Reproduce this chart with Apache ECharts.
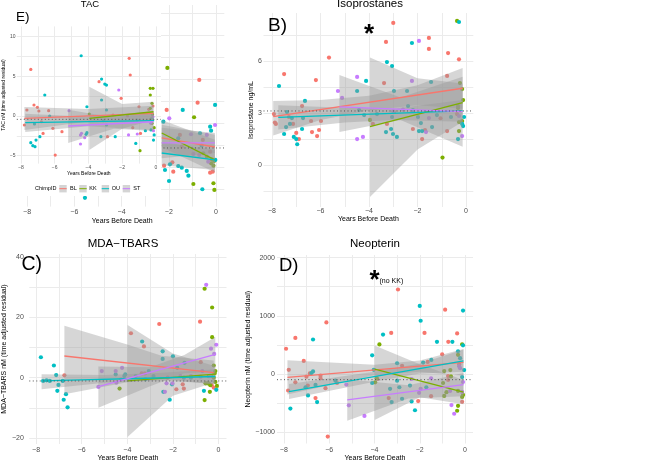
<!DOCTYPE html>
<html><head><meta charset="utf-8">
<script src="https://cdn.jsdelivr.net/npm/echarts@6/dist/echarts.min.js"></script>
<style>html,body{margin:0;padding:0;background:#fff}#c{width:670px;height:463px}</style>
</head><body><div id="c"></div>
<script>
// ---------------- DATA ----------------
const GROUPS = ['BL', 'KK', 'OU', 'ST'];
const COLORS = { BL: '#F8766D', KK: '#7CAE00', OU: '#00BFC4', ST: '#C77CFF' };
const xTickStep = 2;

// E (underlying, partly hidden) TAC
const tacU_BL = [[-2.09,3.98],[-0.71,7.39],[-0.78,4.81],[-2.2,-2.35],[-1.85,-1.97],[-1.81,-3.03],[-0.25,-3.15],[-0.14,-3.03],[-1.53,1.14],[-0.56,0.57],[-1.45,-0.19],[-0.25,-0.76]];
const tacU_KK = [[-2.06,8.75],[-0.93,3.15],[-0.96,-4.43],[-0.11,-4.35],[-0.07,-5.11],[-0.21,-2.08],[-0.11,-2.35],[-0.54,-0.94],[-0.39,-1.33],[-0.18,-1.63],[-0.08,-1.82]];
const tacU_OU = [[-0.04,4.55],[-1.41,3.98],[-0.25,2.08],[-2.16,-2.84],[-1.95,-2.2],[-1.99,-4.09],[-1.6,-2.39],[-1.45,-2.58],[-1.24,-2.95],[-1.17,-3.49],[-0.58,-5.03],[-0.03,-1.7],[-2.23,2.65],[-0.21,1.63],[-1.6,0.76],[-0.68,1.33],[-0.61,-0.08],[-5.55,-6.0]];
const tacU_ST = [[-1.98,3.03],[-0.04,2.27],[-1.06,1.22],[-0.39,1.14],[-0.96,-1.02],[-0.71,-1.14],[-0.33,-1.9]];
const tacUFit_BL = [[-2.3,0.8],[-0.05,-0.23]];
const tacUFit_KK = [[-2.3,1.36],[-0.05,-1.7]];
const tacUFit_OU = [[-2.3,-0.91],[-0.05,-1.7]];
const tacUFit_ST = [[-2.3,0.23],[-0.05,0.23]];
const tacUBand_BL = [[-2.3,-0.8,2.3],[-0.05,-1.7,1.15]];
const tacUBand_KK = [[-2.3,-0.25,2.85],[-0.05,-3.1,0.6]];
const tacUBand_OU = [[-2.3,-2.3,0.35],[-0.05,-2.85,-0.55]];
const tacUBand_ST = [[-2.3,-1.5,1.95],[-0.05,-0.9,1.35]];
const tacURef = -0.34;

// E (small inset) TAC
const tacS_BL = [[-7.42,5.88],[-7.8,-1.13],[-7.65,0.76],[-7.23,1.39],[-7.03,1.1],[-6.94,0.63],[-6.79,-0.72],[-6.69,-2.19],[-6.36,0.67],[-6.11,-1.55],[-5.57,-1.98],[-5.97,-4.92],[-3.37,4.33],[-2.87,-2.6],[-2.54,0.13],[-2.06,2.23],[-1.68,0],[-1.58,7.27],[-1.52,5.17],[-1.37,-1.47],[-1.0,1.17],[-0.91,-2.19],[-0.42,0.84],[-0.17,1.26]];
const tacS_KK = [[-0.94,-4.37],[-0.33,3.49],[-0.17,3.49],[-0.33,2.65],[-0.23,1.6],[-0.33,0.97],[-0.23,-0.92],[-0.1,-1.47],[-3.95,0.25],[-0.2,0.2],[-0.3,-0.4]];
const tacS_OU = [[-4.43,7.6],[-6.59,2.65],[-7.42,-3.36],[-7.11,-3.03],[-6.88,-2.61],[-7.17,-3.87],[-7.3,-3.74],[-6.3,0],[-7.2,-1.0],[-4.09,1.17],[-4.14,-2.31],[-4.09,-2.1],[-3.22,4.66],[-3.03,4.03],[-2.93,3.9],[-3.22,2.02],[-2.93,0.76],[-3.12,-0.59],[-2.93,-1.13],[-3.26,-2.6],[-2.41,-2.6],[-1.19,-3.45],[-1.1,-0.5],[-0.62,-1.85],[-0.29,-1.76],[-0.23,-0.29],[-0.14,-3.03],[-0.1,-2.39]];
const tacS_ST = [[-5.15,0.67],[-4.47,-2.4],[-4.41,-2.18],[-4.22,-2.73],[-4.47,-3.53],[-2.2,3.28],[-1.62,-2.39],[-1.1,-2.27],[-0.14,-1.85],[-0.17,-0.09],[-0.3,-0.9]];
const tacSFit_BL = [[-7.8,-0.3],[-0.14,0.34]];
const tacSFit_KK = [[-3.95,-0.29],[-0.14,0.54]];
const tacSFit_OU = [[-7.75,-0.84],[-0.1,-0.59]];
const tacSFit_ST = [[-5.2,-1.26],[-0.14,-0.72]];
const tacSBand_BL = [[-7.8,-1.75,1.15],[-4,-0.7,0.9],[-0.14,-0.6,1.3]];
const tacSBand_KK = [[-3.95,-4.3,3.7],[-2,-1.6,1.5],[-0.14,-0.5,1.8]];
const tacSBand_OU = [[-7.75,-2.0,0.3],[-4,-1.3,-0.1],[-0.14,-1.8,0.6]];
const tacSBand_ST = [[-5.2,-3.4,0.8],[-2.5,-1.6,-0.2],[-0.14,-1.9,0.5]];
const tacSRef = -0.42;

// B) Isoprostanes
const iso_BL = [[-7.92,2.94],[-7.84,2.37],[-7.88,2.45],[-7.5,5.25],[-7.3,2.77],[-7.13,2.37],[-6.76,3.4],[-7.0,1.85],[-6.89,1.5],[-6.39,2.54],[-6.35,1.9],[-6.19,4.9],[-6.14,1.67],[-6.06,2.02],[-5.98,2.54],[-5.65,6.2],[-3.84,2.37],[-3.38,4.73],[-3.3,7.1],[-3.26,2.37],[-3.0,8.2],[-2.97,3.06],[-2.19,2.08],[-1.69,2.02],[-1.81,1.5],[-1.53,7.33],[-1.53,6.7],[-1.05,2.7],[-0.74,6.46],[-0.78,5.14],[-0.78,1.96],[-0.29,6.1],[-0.37,2.94]];
const iso_KK = [[-3.96,2.6],[-0.97,0.43],[-0.37,8.31],[-0.25,4.73],[-0.16,4.38],[-0.12,3.75],[-0.33,3.4],[-0.33,3.29],[-0.16,2.54],[-0.29,2.48],[-0.29,1.96]];
const iso_OU = [[-7.71,4.56],[-7.38,3.06],[-7.42,2.19],[-7.5,1.79],[-7.26,2.37],[-7.18,2.71],[-7.1,1.62],[-7.0,1.5],[-6.96,1.2],[-6.72,2.71],[-6.76,2.08],[-6.64,3.7],[-4.49,4.27],[-4.12,4.85],[-4.41,3.17],[-4.2,2.88],[-3.67,2.94],[-3.26,5.94],[-3.05,5.71],[-3.3,1.9],[-3.09,2.08],[-3.01,1.79],[-2.97,4.27],[-3.05,2.77],[-2.85,1.62],[-2.43,4.27],[-2.39,3.4],[-2.23,7.04],[-2.19,3.17],[-1.98,2.77],[-1.94,1.96],[-1.86,2.42],[-1.81,1.96],[-1.44,4.79],[-1.4,2.19],[-1.2,2.88],[-0.29,8.25],[-0.62,2.77],[-0.16,2.37],[-0.12,2.25],[-0.08,2.77],[-0.33,1.5]];
const iso_ST = [[-5.28,4.27],[-5.11,3.87],[-4.49,5.08],[-4.49,1.5],[-4.25,1.62],[-2.23,4.85],[-1.94,7.16],[-1.65,1.9],[-1.53,2.71],[-0.29,2.83],[-0.16,1.67],[-2.6,3.2],[-3.0,3.1]];
const isoFit_BL = [[-7.95,2.79],[-0.14,4.43]];
const isoFit_KK = [[-3.96,2.21],[-0.14,3.6]];
const isoFit_OU = [[-7.74,2.75],[-0.14,3.13]];
const isoFit_ST = [[-5.22,3.36],[-0.14,3.08]];
const isoBand_BL = [[-7.95,1.7,3.7],[-6,2.6,3.75],[-4,3.15,4.0],[-2,3.45,4.6],[-0.14,3.25,5.6]];
const isoBand_KK = [[-3.96,-1.85,6.2],[-2,0.9,5.0],[-0.14,2.5,4.7]];
const isoBand_OU = [[-7.74,2.05,3.45],[-5,2.45,3.3],[-3,2.6,3.25],[-0.14,2.5,3.75]];
const isoBand_ST = [[-5.22,1.9,5.2],[-2.7,2.6,3.9],[-0.14,1.05,5.1]];
const isoRef = 3.12;

// C) MDA-TBARS
const mda_BL = [[-6.76,0.77],[-3.84,14.75],[-3.37,1.42],[-3.27,10.38],[-3.23,1.42],[-2.6,17.81],[-2.23,0],[-1.57,-2.19],[-1.52,-3.6],[-1.85,-3.83],[-0.81,18.58],[-0.78,5.14],[-0.21,-3.28],[-0.3,-2.5]];
const mda_KK = [[-4.34,-3.6],[-0.61,29.5],[-0.61,-7.43],[-0.28,23.28],[-0.28,13.44],[-0.5,-1.86],[-0.38,-4.7],[-0.21,4.04],[-0.14,2.19],[-0.57,-1.86],[-0.43,-1.86],[-0.33,0.55],[-0.21,0],[-0.14,-1.42],[-0.07,-2.73],[-0.36,-2.51],[-0.17,1.42]];
const mda_OU = [[-7.79,6.78],[-7.22,4.04],[-7.12,0.87],[-7.07,-4.37],[-7.02,-2.4],[-7.4,-1.09],[-7.54,-0.87],[-7.69,-1.09],[-6.83,-1.09],[-6.79,-7.32],[-6.69,-5.46],[-6.62,-9.84],[-4.51,1.09],[-4.13,0.55],[-4.09,1.09],[-3.63,0.55],[-3.35,12.0],[-3.2,-0.55],[-3.06,2.19],[-2.85,0.55],[-2.45,8.74],[-2.45,6.23],[-2.42,-4.7],[-2.14,-7.32],[-2.04,-2.19],[-2.0,7.1],[-1.81,3.28],[-1.52,0],[-1.49,4.92],[-1.21,0],[-0.64,-4.37],[-0.43,0.55],[-0.1,-4.04]];
const mda_ST = [[-5.27,-3.06],[-5.12,2.19],[-4.51,2.19],[-4.48,-1.64],[-4.27,-0.55],[-4.23,3.28],[-2.35,-4.7],[-2.28,-1.86],[-2.02,-1.86],[-1.67,0.55],[-1.21,0.55],[-0.78,0.33],[-0.54,30.8],[-0.33,9.62],[-0.19,7.87],[-0.1,10.93],[-0.71,2.19],[-0.38,0.55]];
const mdaFit_BL = [[-6.76,7.2],[-0.21,1.7]];
const mdaFit_KK = [[-3.99,-1.05],[-0.14,1.15]];
const mdaFit_OU = [[-7.76,-1.05],[-0.14,0.4]];
const mdaFit_ST = [[-5.27,-3.0],[-0.14,7.74]];
const mdaBand_BL = [[-6.76,-5.5,17.2],[-4,-1.5,11.0],[-2.5,-0.3,7.3],[-0.21,-2.3,5.7]];
const mdaBand_KK = [[-3.99,-19.7,17.5],[-2,-6,8],[-0.14,-1.5,3.8]];
const mdaBand_OU = [[-7.76,-3.8,1.15],[-5,-1.7,0.9],[-2.5,-0.9,1.6],[-0.14,-2.0,2.8]];
const mdaBand_ST = [[-5.27,-10,3.7],[-3,-2.8,3.5],[-1.5,1.5,7.5],[-0.14,2.0,13.5]];
const mdaRef = -1.09;

// D) Neopterin
const neo_BL = [[-7.9,435],[-7.78,73],[-7.81,-282],[-7.49,621],[-7.49,-141],[-7.12,226],[-7.0,-45],[-6.94,-198],[-6.85,11],[-6.38,-28],[-6.38,-73],[-6.6,-412],[-6.16,-243],[-6.12,887],[-6.06,-1073],[-5.65,-153],[-3.87,-85],[-3.26,706],[-3.37,-412],[-2.96,1452],[-2.78,141],[-2.07,-463],[-1.79,706],[-1.65,209],[-1.5,-379],[-1.01,339],[-0.88,1105],[-0.74,554],[-0.75,-34],[-0.35,698],[-0.26,170],[-0.13,-477],[-0.75,-102]];
const neo_KK = [[-3.78,508],[-3.97,-141],[-3.9,-70],[-0.65,68],[-0.62,-40],[-0.82,-311],[-0.31,-545],[-0.35,-630],[-0.31,330],[-0.92,51],[-0.97,-153],[-0.92,-375],[-0.31,-290],[-0.09,-358],[-0.13,-392],[-0.13,511]];
const neo_OU = [[-7.71,-593],[-7.04,-226],[-6.93,-367],[-6.78,17],[-6.71,45],[-6.71,593],[-6.6,-186],[-6.53,-480],[-5.72,-113],[-4.1,322],[-4.1,-153],[-4.03,73],[-3.62,678],[-3.31,-254],[-3.24,-480],[-3.0,186],[-3.0,-113],[-2.9,-226],[-2.78,-424],[-2.43,-198],[-2.36,-469],[-2.21,-621],[-2.0,1169],[-1.96,915],[-1.85,198],[-1.71,-226],[-1.49,243],[-1.24,554],[-0.56,554],[-0.09,1090],[-0.09,494],[-0.31,392],[-0.22,273],[-0.04,68],[-0.13,-51]];
const neo_ST = [[-5.24,-181],[-5.13,-537],[-4.44,-718],[-2.36,-85],[-2.03,-322],[-1.96,-254],[-1.5,-73],[-0.6,-533],[-0.26,136],[-0.09,-136],[-0.66,-290],[-0.48,-681],[-0.13,-307],[-0.22,100]];
const neoFit_BL = [[-7.84,-57],[-0.07,199]];
const neoFit_KK = [[-3.99,85],[-0.07,-312]];
const neoFit_OU = [[-7.77,-301],[-0.07,227]];
const neoFit_ST = [[-5.2,-443],[-0.07,-182]];
const neoBand_BL = [[-7.84,-350,238],[-4,-20,160],[-2,40,235],[-0.07,-30,430]];
const neoBand_KK = [[-3.99,-790,490],[-2,-400,170],[-0.07,-520,-100]];
const neoBand_OU = [[-7.77,-430,-170],[-4,-130,40],[-2,10,180],[-0.07,40,420]];
const neoBand_ST = [[-5.2,-800,-90],[-2.5,-420,-190],[-0.07,-380,20]];
const neoRef = -96;

// ---------------- LAYOUT ----------------
const FONT = 'Liberation Sans, Arial, sans-serif';
const panels = [
  { name: 'tacU', grid: { left: 20, top: 5, width: 204.3, height: 201.6 }, xr: [-8.3, 0.35], yr: [-7, 15.9], yStep: 2.5, yLab: 5,
    fs: 7, xMargin: 2, yMargin: 2, xGap: 11, yGap: 10, yShow: false, yName: '', z: 0,
    pts: { BL: tacU_BL, KK: tacU_KK, OU: tacU_OU, ST: tacU_ST }, fits: { BL: tacUFit_BL, KK: tacUFit_KK, OU: tacUFit_OU, ST: tacUFit_ST },
    bands: { BL: tacUBand_BL, KK: tacUBand_KK, OU: tacUBand_OU, ST: tacUBand_ST }, ref: tacURef },
  { name: 'tacS', grid: { left: 13, top: 26.4, width: 147.9, height: 137.2 }, xr: [-8.25, 0.3], yr: [-6, 11.3], yStep: 2.5, yLab: 5,
    fs: 5, xMargin: 2, yMargin: 1.2, xGap: 6.5, yGap: 7.5, yShow: true, yName: 'TAC nM (time adjusted residual)', z: 11, sym: 3.2,
    pts: { BL: tacS_BL, KK: tacS_KK, OU: tacS_OU, ST: tacS_ST }, fits: { BL: tacSFit_BL, KK: tacSFit_KK, OU: tacSFit_OU, ST: tacSFit_ST },
    bands: { BL: tacSBand_BL, KK: tacSBand_KK, OU: tacSBand_OU, ST: tacSBand_ST }, ref: tacSRef },
  { name: 'iso', grid: { left: 263.5, top: 13, width: 209.8, height: 194 }, xr: [-8.35, 0.3], yr: [-2.42, 8.77], yStep: 1.5, yLab: 3,
    fs: 7, xMargin: 1, yMargin: 1.5, xGap: 8.5, yGap: 7, yShow: true, yName: 'Isoprostane ng/mL', z: 0,
    pts: { BL: iso_BL, KK: iso_KK, OU: iso_OU, ST: iso_ST }, fits: { BL: isoFit_BL, KK: isoFit_KK, OU: isoFit_OU, ST: isoFit_ST },
    bands: { BL: isoBand_BL, KK: isoBand_KK, OU: isoBand_OU, ST: isoBand_ST }, ref: isoRef },
  { name: 'mda', grid: { left: 24, top: 254.1, width: 202.5, height: 191.2 }, xr: [-8.3, 0.35], yr: [-22, 41], yStep: 10, yLab: 20,
    fs: 7, xMargin: 3, yMargin: 5.5, xGap: 11, yGap: 16.5, yShow: true, yName: 'MDA\u2212TBARS nM (time adjusted residual)', z: 0,
    pts: { BL: mda_BL, KK: mda_KK, OU: mda_OU, ST: mda_ST }, fits: { BL: mdaFit_BL, KK: mdaFit_KK, OU: mdaFit_OU, ST: mdaFit_ST },
    bands: { BL: mdaBand_BL, KK: mdaBand_KK, OU: mdaBand_OU, ST: mdaBand_ST }, ref: mdaRef },
  { name: 'neo', grid: { left: 277, top: 255, width: 196, height: 190 }, xr: [-8.3, 0.35], yr: [-1192, 2044], yStep: 500, yLab: 1000,
    fs: 7, xMargin: 3.5, yMargin: 2, xGap: 11.5, yGap: 21.5, yShow: true, yName: 'Neopterin nM (time adjusted residual)', z: 0,
    pts: { BL: neo_BL, KK: neo_KK, OU: neo_OU, ST: neo_ST }, fits: { BL: neoFit_BL, KK: neoFit_KK, OU: neoFit_OU, ST: neoFit_ST },
    bands: { BL: neoBand_BL, KK: neoBand_KK, OU: neoBand_OU, ST: neoBand_ST }, ref: neoRef }
];

function fmtEvery(step) {
  return function (v) {
    const r = v / step;
    if (Math.abs(r - Math.round(r)) > 1e-6) return '';
    const n = Math.round(v * 1000) / 1000;
    return n < 0 ? '\u2212' + Math.abs(n) : String(n);
  };
}

const grids = [], xAxes = [], yAxes = [], series = [];
panels.forEach((p, i) => {
  grids.push(Object.assign({ containLabel: false, show: false }, p.grid));
  const base = p.z;
  xAxes.push({
    type: 'value', gridIndex: i, min: p.xr[0], max: p.xr[1], minInterval: 1, maxInterval: 1, z: base,
    axisLine: { show: false }, axisTick: { show: false },
    axisLabel: { formatter: fmtEvery(xTickStep), fontSize: p.fs, color: '#4d4d4d', margin: p.xMargin, fontFamily: FONT },
    splitLine: { show: true, showMinLine: false, showMaxLine: false, lineStyle: { color: '#ebebeb', width: 1 } },
    name: 'Years Before Death', nameLocation: 'middle', nameGap: p.xGap,
    nameTextStyle: { fontSize: p.fs, color: '#000', fontFamily: FONT }
  });
  yAxes.push({
    type: 'value', gridIndex: i, min: p.yr[0], max: p.yr[1], minInterval: p.yStep, maxInterval: p.yStep, z: base,
    axisLine: { show: false }, axisTick: { show: false },
    axisLabel: { show: p.yShow, formatter: fmtEvery(p.yLab), fontSize: p.fs, color: '#4d4d4d', margin: p.yMargin, fontFamily: FONT },
    splitLine: { show: true, showMinLine: false, showMaxLine: false, lineStyle: { color: '#ebebeb', width: 1 } },
    name: p.yName, nameLocation: 'middle', nameGap: p.yGap,
    nameTextStyle: { fontSize: p.fs, color: '#000', fontFamily: FONT }
  });
  const zs = base === 0 ? 2 : base + 1;
  GROUPS.forEach(g => {
    series.push({
      type: 'scatter', xAxisIndex: i, yAxisIndex: i, data: p.pts[g], symbolSize: p.sym || 4.2, z: zs,
      itemStyle: { color: COLORS[g], opacity: 1 }, silent: true
    });
  });
  GROUPS.forEach(g => {
    const band = p.bands[g];
    series.push({
      type: 'custom', xAxisIndex: i, yAxisIndex: i, data: band, z: zs + 1, silent: true, clip: true,
      encode: { x: 0, y: [1, 2] },
      renderItem: function (params, api) {
        if (params.dataIndex !== 0) return null;
        const pts = [];
        band.forEach(r => pts.push(api.coord([r[0], r[2]])));
        band.slice().reverse().forEach(r => pts.push(api.coord([r[0], r[1]])));
        return { type: 'polygon', shape: { points: pts }, style: { fill: 'rgba(153,153,153,0.4)' } };
      }
    });
  });
  GROUPS.forEach(g => {
    series.push({
      type: 'line', xAxisIndex: i, yAxisIndex: i, data: p.fits[g], showSymbol: false, z: zs + 2, silent: true,
      lineStyle: { color: COLORS[g], width: 1.3 }
    });
  });
  series.push({
    type: 'line', xAxisIndex: i, yAxisIndex: i, data: [[p.xr[0], p.ref], [p.xr[1], p.ref]], showSymbol: false, z: zs + 3, silent: true,
    lineStyle: { color: '#555', width: 1, type: [1, 2.5] }
  });
});

function txt(text, x, y, size, opts) {
  opts = opts || {};
  return {
    type: 'text', x: x, y: y, z: 30, silent: true,
    style: {
      text: text, font: (opts.weight || 'normal') + ' ' + size + 'px ' + FONT, fill: opts.fill || '#000',
      align: opts.align || 'center', textAlign: opts.align || 'center',
      verticalAlign: 'middle', textVerticalAlign: 'middle'
    }
  };
}

const graphics = [
  // cover of the inset E) plot over the underlying one
  { type: 'rect', z: 10, silent: true, shape: { x: 0, y: 0, width: 161, height: 196 }, style: { fill: '#fff' } },
  txt('TAC', 90, 4, 9.5),
  txt('E)', 16, 17, 13.5, { align: 'left' }),
  txt('Isoprostanes', 370, 3.5, 11.5),
  txt('B)', 268, 26, 19, { align: 'left' }),
  txt('*', 369, 35, 26, { weight: 'bold' }),
  txt('MDA\u2212TBARS', 123, 244.3, 11.5),
  txt('C)', 21.5, 265, 19.5, { align: 'left' }),
  txt('Neopterin', 375, 244.3, 11.5),
  txt('D)', 279, 265.6, 18.5, { align: 'left' }),
  txt('*', 374.5, 281, 26, { weight: 'bold' }),
  txt('(no KK)', 379.5, 281.5, 7, { align: 'left' }),
  txt('ChimpID', 35, 188.7, 5.5, { align: 'left' })
];
const keyX = [59.3, 79.3, 101.7, 122.7];
const labX = [70, 89.3, 111.7, 133.3];
GROUPS.forEach((g, k) => {
  graphics.push({ type: 'rect', z: 30, silent: true, shape: { x: keyX[k], y: 185, width: 7.4, height: 7.4 }, style: { fill: '#d4d4d4' } });
  graphics.push({ type: 'line', z: 31, silent: true, shape: { x1: keyX[k], y1: 188.7, x2: keyX[k] + 7.4, y2: 188.7 }, style: { stroke: COLORS[g], lineWidth: 1 } });
  graphics.push(txt(g, labX[k], 188.7, 5.5, { align: 'left' }));
});

const chart = echarts.init(document.getElementById('c'), null, { renderer: 'canvas' });
chart.setOption({
  animation: false,
  backgroundColor: '#fff',
  textStyle: { fontFamily: FONT },
  grid: grids, xAxis: xAxes, yAxis: yAxes, series: series,
  graphic: { elements: graphics }
});
</script></body></html>
